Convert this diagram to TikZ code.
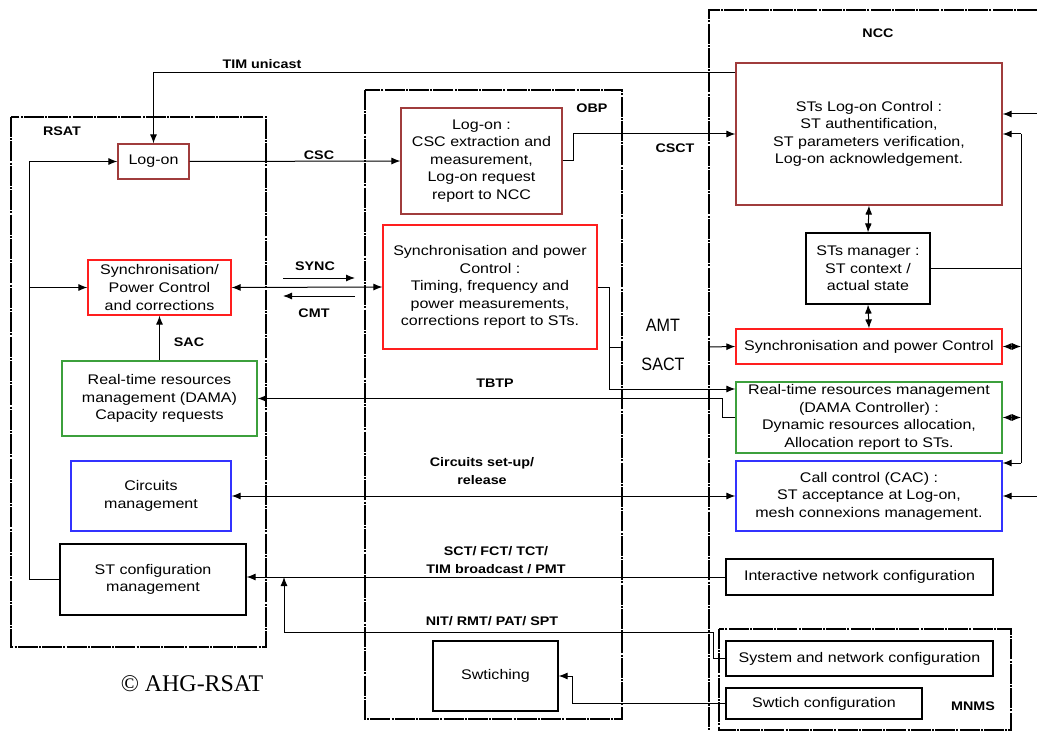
\documentclass[tikz,border=0pt]{standalone}
\usepackage{fontspec}
\setmainfont{Liberation Sans}[FakeStretch=1.15]
\newfontfamily\amtfont{Liberation Sans}[FakeStretch=0.9]
\newfontfamily\copyfont{Liberation Serif}
\usetikzlibrary{arrows.meta}
\definecolor{dred}{RGB}{160,60,60}
\definecolor{bred}{RGB}{255,30,30}
\definecolor{bgreen}{RGB}{60,160,60}
\definecolor{bblue}{RGB}{50,50,255}
\begin{document}
\begin{tikzpicture}[x=1bp,y=-1bp,
 box/.style={draw, line width=1.2bp, align=center, inner sep=1bp, font=\fontsize{14}{17.6}\selectfont},
 lbl/.style={font=\bfseries\fontsize{12.5}{18.5}\selectfont, align=center, inner sep=0pt},
 cont/.style={line width=1.1bp, dash pattern=on 20bp off 1.2bp on 2bp off 1.2bp},
 conn/.style={line width=1bp},
 arr/.style={conn, -{Latex[length=9bp,width=7bp]}},
 darr/.style={conn, {Latex[length=9bp,width=7bp]}-{Latex[length=9bp,width=7bp]}},
]
\fill[white] (0,0) rectangle (1037,731);
\useasboundingbox (0,0) rectangle (1037,731);

% containers
\draw[cont] (11,117) rectangle (266,647);
\draw[cont] (365,90) rectangle (622,719);
\draw[cont] (1037,10) -- (709,10) -- (709,731);
\draw[cont] (719,629) rectangle (1011,730);

\node[lbl] (lrsat) at (62,131) {RSAT};
\node[lbl] (lobp) at (592,108) {OBP};
\node[lbl] (lncc) at (878,33) {NCC};
\node[lbl] (lmnms) at (973,706) {MNMS};

% RSAT boxes
\node[box, draw=dred, minimum width=71bp, minimum height=35bp] (rlog) at (153.5,161.5) {Log-on};
\node[box, draw=bred, minimum width=143bp, minimum height=55bp] (rsync) at (159.5,287.5) {Synchronisation/\\Power Control\\and corrections};
\node[box, draw=bgreen, minimum width=195bp, minimum height=75bp] (rdama) at (159.5,398.5) {Real-time resources\\management (DAMA)\\Capacity requests};
\node[box, draw=bblue, minimum width=160bp, minimum height=70bp] (circ) at (151,496) {Circuits\\management};
\node[box, minimum width=186bp, minimum height=71bp] (stcfg) at (153,579.5) {ST configuration\\management};

% OBP boxes
\node[box, draw=dred, minimum width=161bp, minimum height=106bp] (olog) at (481.5,161) {Log-on :\\CSC extraction and\\measurement,\\Log-on request\\report to NCC};
\node[box, draw=bred, minimum width=214bp, minimum height=124bp] (osync) at (490,287) {Synchronisation and power\\Control :\\Timing, frequency and\\power measurements,\\corrections report to STs.};
\node[box, minimum width=125bp, minimum height=70bp] (swi) at (495.5,676) {Swtiching};

% NCC boxes
\node[box, draw=dred, minimum width=266bp, minimum height=142bp] (stlog) at (869,134) {STs Log-on Control :\\ST authentification,\\ST parameters verification,\\Log-on acknowledgement.};
\node[box, minimum width=124bp, minimum height=71bp] (stman) at (868,268.5) {STs manager :\\ST context /\\actual state};
\node[box, draw=bred, minimum width=266bp, minimum height=35bp] (nsync) at (869,346.5) {Synchronisation and power Control};
\node[box, draw=bgreen, minimum width=266bp, minimum height=71bp] (dctrl) at (869,417.5) {Real-time resources management\\(DAMA Controller) :\\Dynamic resources allocation,\\Allocation report to STs.};
\node[box, draw=bblue, minimum width=266bp, minimum height=70bp] (cac) at (869,496) {Call control (CAC) :\\ST acceptance at Log-on,\\mesh connexions management.};
\node[box, minimum width=267bp, minimum height=36bp] (inc) at (859.5,577) {Interactive network configuration};
\node[box, minimum width=267bp, minimum height=35bp] (snc) at (859.5,658.5) {System and network configuration};
\node[box, minimum width=196bp, minimum height=31bp] (swc) at (824,703.5) {Swtich configuration};

% coordinates
\coordinate (timy) at (0,73);
\coordinate (cscx) at (573,0);
\coordinate (lbus) at (29,0);
\coordinate (syncA) at (283,278);
\coordinate (syncB) at (355,278);
\coordinate (cmtA) at (355,296);
\coordinate (cmtB) at (283,296);
\coordinate (amt1) at (609,287);
\coordinate (amt2) at (609,389);
\coordinate (amtm) at (609,347);
\coordinate (amtobp) at (622,347);
\coordinate (amtncc) at (708,347);
\coordinate (tbx) at (722,398.5);
\coordinate (nitx) at (713,632);
\coordinate (nitl) at (284,632);
\coordinate (swx) at (572,676);
\coordinate (rbt) at (1021,134);
\coordinate (rbb) at (1021,463);
\coordinate (ext1) at (1037,114);
\coordinate (ext2) at (1037,496);

% connectors
\draw[arr] (stlog.west |- timy) -| (rlog.north);
\node[lbl] (ltim) at (262,64) {TIM unicast};

\draw[arr] (rlog.east) -- (olog.west);
\node[lbl] (lcsc) at (319,155) {CSC};

\draw[arr] (olog.east) -| (cscx |- stlog.west) -- (stlog.west);
\node[lbl] (lcsct) at (675,148) {CSCT};

\draw[darr] (rsync.east) -- (osync.west);
\draw[arr] (syncA) -- (syncB);
\draw[arr] (cmtA) -- (cmtB);
\node[lbl] (lsync) at (315,266) {SYNC};
\node[lbl] (lcmt) at (314,313) {CMT};

\draw[conn] (osync.east) -- (amt1) -- (amt2);
\draw[arr] (amt2) -- (amt2 -| dctrl.west);
\draw[conn] (amtm) -- (amtobp);
\draw[arr] (amtncc) -- (nsync.west);
\node[font=\amtfont\fontsize{18}{20}\selectfont, inner sep=0pt] (lamt) at (663,325) {AMT};
\node[font=\amtfont\fontsize{18}{20}\selectfont, inner sep=0pt] (lsact) at (663,364) {SACT};

\draw[arr] (rdama.north) -- (rsync.south);
\node[lbl] (lsac) at (189,342) {SAC};

\draw[arr] (stcfg.west) -| (lbus |- rlog.west) -- (rlog.west);
\draw[arr] (lbus |- rsync.west) -- (rsync.west);

\draw[arr] (dctrl.west) -| (tbx) -- (rdama.east);
\node[lbl] (ltbtp) at (495,383) {TBTP};

\draw[darr] (circ.east) -- (cac.west);
\node[lbl] (lcirc) at (482,471) {Circuits set-up/\\release};

\draw[arr] (inc.west) -- (stcfg.east |- inc.west);
\node[lbl] (lsct) at (496,560) {SCT/ FCT/ TCT/\\TIM broadcast / PMT};

\draw[arr] (snc.west) -| (nitx) -- (nitl) -- (nitl |- inc.west);
\node[lbl] (lnit) at (492,621) {NIT/ RMT/ PAT/ SPT};

\draw[arr] (swc.west) -| (swx) -- (swi.east);

\draw[darr] (stlog.south) -- (stman.north);
\draw[darr] (stman.south) -- (nsync.north);

\draw[conn] (rbt) -- (rbb);
\draw[arr] (rbt) -- (rbt -| stlog.east);
\draw[arr] (rbb) -- (rbb -| cac.east);
\draw[conn] (stman.east) -- (stman.east -| rbt);
\draw[darr] (nsync.east) -- (nsync.east -| rbt);
\draw[darr] (dctrl.east) -- (dctrl.east -| rbt);
\draw[arr] (ext1) -- (ext1 -| stlog.east);
\draw[arr] (ext2) -- (cac.east);

\node[font=\copyfont\fontsize{24}{26}\selectfont, inner sep=0pt] (copy) at (192,684) {© AHG-RSAT};
\end{tikzpicture}
\end{document}
